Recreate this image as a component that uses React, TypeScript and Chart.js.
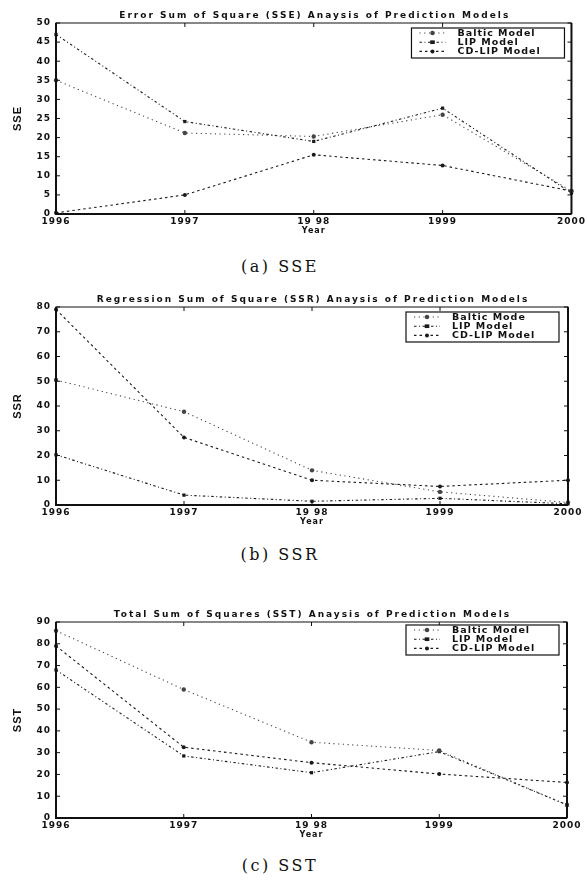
import React, { useEffect, useRef } from 'react';
import { Chart, registerables } from 'chart.js';

Chart.register(...registerables);

// ---------- data ----------
const years = [1996, 1997, 1998, 1999, 2000];
const yearLabels = ['1996', '1997', '19 98', '1999', '2000'];

const namesSSE = ['Baltic Model', 'LIP Model', 'CD-LIP Model'];
const namesSSR = ['Baltic Mode', 'LIP Model', 'CD-LIP Model'];
const namesSST = ['Baltic Model', 'LIP Model', 'CD-LIP Model'];

const sseBaltic = [35, 21.2, 20.3, 26, 6];
const sseLIP = [47, 24.2, 19, 27.7, 5.5];
const sseCDLIP = [0.3, 5, 15.5, 12.7, 6];

const ssrBaltic = [50.5, 37.7, 14, 5.3, 1];
const ssrLIP = [20.3, 4, 1.5, 2.7, 0.5];
const ssrCDLIP = [79, 27.3, 10, 7.5, 10];

const sstBaltic = [86, 59, 34.8, 31, 6];
const sstLIP = [68, 28.5, 20.8, 30.5, 6];
const sstCDLIP = [79, 32.5, 25.4, 20.2, 16.3];

// ---------- styles ----------
const seriesStyles = [
  { dash: [1.2, 3.5], pointStyle: 'circle', radius: 2.2, color: '#444' },
  { dash: [2.5, 2.5, 1, 2.5], pointStyle: 'rect', radius: 2.3, color: '#1a1a1a' },
  { dash: [2.5, 3], pointStyle: 'circle', radius: 2, color: '#1a1a1a' },
];

const tickFont = { family: 'DejaVu Sans', weight: 'bold' as const, size: 9 };

function drawMarker(ctx: CanvasRenderingContext2D, style: string, x: number, y: number, r: number) {
  ctx.beginPath();
  if (style === 'rect') {
    ctx.rect(x - r, y - r * 0.8, 2 * r, 1.6 * r);
  } else {
    ctx.arc(x, y, r, 0, Math.PI * 2);
  }
  ctx.fill();
}

const framePlugin = {
  id: 'frameLegend',
  beforeLayout(chart: any) {
    chart.ctx.letterSpacing = '1px';
  },
  beforeDraw(chart: any) {
    chart.ctx.letterSpacing = '1px';
  },
  afterDatasetsDraw(chart: any, _args: any, opts: any) {
    const ctx: CanvasRenderingContext2D = chart.ctx;
    const a = chart.chartArea;
    const xs = chart.scales.x;
    const ys = chart.scales.y;
    ctx.save();
    ctx.setLineDash([]);
    ctx.strokeStyle = '#111';
    ctx.lineWidth = 1;
    ctx.strokeRect(a.left, a.top, a.right - a.left, a.bottom - a.top);
    ctx.lineWidth = 2;
    ctx.beginPath();
    ctx.moveTo(a.left, a.top);
    ctx.lineTo(a.left, a.bottom);
    ctx.lineTo(a.right, a.bottom);
    ctx.moveTo(a.right, a.top);
    ctx.lineTo(a.right, a.bottom);
    ctx.stroke();
    // inward ticks
    ctx.lineWidth = 1;
    ctx.beginPath();
    for (const t of xs.ticks) {
      const p = xs.getPixelForValue(t.value);
      ctx.moveTo(p, a.bottom);
      ctx.lineTo(p, a.bottom - 4);
      ctx.moveTo(p, a.top);
      ctx.lineTo(p, a.top + 4);
    }
    for (const t of ys.ticks) {
      const p = ys.getPixelForValue(t.value);
      ctx.moveTo(a.left, p);
      ctx.lineTo(a.left + 4, p);
      ctx.moveTo(a.right, p);
      ctx.lineTo(a.right - 4, p);
    }
    ctx.stroke();

    // title
    ctx.fillStyle = '#111';
    ctx.font = 'bold 9px "DejaVu Sans"';
    (ctx as any).letterSpacing = '2px';
    ctx.textAlign = 'center';
    ctx.textBaseline = 'middle';
    ctx.fillText(opts.title, (a.left + a.right) / 2 + 1, a.top - 7);

    // legend
    const names: string[] = opts.names || [];
    const w = 153;
    const h = 30;
    const bx = a.right - opts.rightInset - w;
    const by = a.top + opts.topInset;
    ctx.fillStyle = '#fff';
    ctx.fillRect(bx, by, w, h);
    ctx.lineWidth = 1.2;
    ctx.strokeStyle = '#111';
    ctx.strokeRect(bx, by, w, h);
    ctx.font = 'bold 9.5px "DejaVu Sans"';
    (ctx as any).letterSpacing = '1px';
    ctx.textBaseline = 'middle';
    ctx.textAlign = 'left';
    names.forEach((n, i) => {
      const s = seriesStyles[i];
      const cy = by + 5 + i * 9.2;
      ctx.strokeStyle = s.color;
      ctx.fillStyle = s.color;
      ctx.lineWidth = 1.1;
      ctx.setLineDash(s.dash);
      ctx.beginPath();
      ctx.moveTo(bx + 8, cy);
      ctx.lineTo(bx + 34, cy);
      ctx.stroke();
      ctx.setLineDash([]);
      drawMarker(ctx, s.pointStyle, bx + 21, cy, s.radius);
      ctx.fillStyle = '#111';
      ctx.fillText(n, bx + 46, cy + 0.5);
    });
    ctx.restore();
  },
};

type Cfg = {
  top: number;
  height: number;
  rightPad: number;
  title: string;
  yTitle: string;
  yMax: number;
  yStep: number;
  series: number[][];
  names: string[];
  legendRight: number;
  legendTop: number;
  caption: string;
  captionY: number;
};

function LineChart({ cfg }: { cfg: Cfg }) {
  const ref = useRef<HTMLCanvasElement>(null);
  useEffect(() => {
    if (!ref.current) return;
    const chart = new Chart(ref.current, {
      type: 'line',
      data: {
        datasets: cfg.series.map((vals, i) => ({
          label: cfg.names[i],
          data: years.map((x, j) => ({ x, y: vals[j] })),
          borderColor: seriesStyles[i].color,
          backgroundColor: seriesStyles[i].color,
          borderWidth: 1.1,
          borderDash: seriesStyles[i].dash,
          pointStyle: seriesStyles[i].pointStyle as any,
          pointRadius: seriesStyles[i].radius,
          pointBorderWidth: 0,
          tension: 0,
          fill: false,
          clip: false as any,
        })),
      },
      options: {
        responsive: false,
        animation: false,
        layout: { padding: { left: 0, right: cfg.rightPad, top: 23, bottom: 0 } },
        plugins: {
          legend: { display: false },
          tooltip: { enabled: false },
          title: { display: false },
          frameLegend: {
            names: cfg.names,
            title: cfg.title,
            rightInset: cfg.legendRight,
            topInset: cfg.legendTop,
          },
        } as any,
        scales: {
          x: {
            type: 'linear',
            min: 1996,
            max: 2000,
            grid: { display: false, drawTicks: false },
            border: { display: false },
            ticks: {
              stepSize: 1,
              autoSkip: false,
              maxRotation: 0,
              padding: 2,
              color: '#111',
              font: tickFont,
              callback: (v: any) => {
                const k = years.indexOf(Number(v));
                return k >= 0 ? yearLabels[k] : '';
              },
            },
            title: {
              display: true,
              text: 'Year',
              color: '#111',
              font: { family: 'DejaVu Sans', weight: 'bold', size: 8 },
              padding: { top: 0, bottom: 4 },
            },
            afterFit: (s: any) => {
              s.height = 26;
            },
          },
          y: {
            min: 0,
            max: cfg.yMax,
            grid: { display: false, drawTicks: false },
            border: { display: false },
            ticks: { stepSize: cfg.yStep, padding: 5, color: '#111', font: tickFont },
            title: {
              display: true,
              text: cfg.yTitle,
              color: '#111',
              font: { family: 'Liberation Sans', weight: 'bold', size: 11 },
              padding: { top: 11, bottom: 0 },
            },
            afterFit: (s: any) => {
              s.width = 56;
            },
          },
        },
      },
      plugins: [framePlugin as any],
    });
    return () => chart.destroy();
  }, [cfg]);
  return (
    <>
      <canvas
        ref={ref}
        width={588}
        height={cfg.height}
        style={{ position: 'absolute', left: 0, top: cfg.top, width: 588, height: cfg.height }}
      />
      <div
        style={{
          position: 'absolute',
          left: 180,
          width: 200,
          top: cfg.captionY - 11,
          height: 22,
          lineHeight: '22px',
          textAlign: 'center',
          fontFamily: '"DejaVu Serif", serif',
          fontSize: 16,
          letterSpacing: '2.5px',
          color: '#111',
          whiteSpace: 'pre',
        }}
      >
        {cfg.caption}
      </div>
    </>
  );
}

const charts: Cfg[] = [
  {
    top: 0,
    height: 240,
    rightPad: 14,
    title: 'Error Sum of Square (SSE) Anaysis of Prediction Models',
    yTitle: 'SSE',
    yMax: 50,
    yStep: 5,
    series: [sseBaltic, sseLIP, sseCDLIP],
    names: namesSSE,
    legendRight: 7,
    legendTop: 5,
    caption: '(a) SSE',
    captionY: 267,
  },
  {
    top: 284,
    height: 247,
    rightPad: 20,
    title: 'Regression Sum of Square (SSR) Anaysis of Prediction Models',
    yTitle: 'SSR',
    yMax: 80,
    yStep: 10,
    series: [ssrBaltic, ssrLIP, ssrCDLIP],
    names: namesSSR,
    legendRight: 9,
    legendTop: 5,
    caption: '(b) SSR',
    captionY: 555,
  },
  {
    top: 599,
    height: 245,
    rightPad: 21,
    title: 'Total Sum of Squares (SST) Anaysis of Prediction Models',
    yTitle: 'SST',
    yMax: 90,
    yStep: 10,
    series: [sstBaltic, sstLIP, sstCDLIP],
    names: namesSST,
    legendRight: 8,
    legendTop: 3,
    caption: '(c) SST',
    captionY: 866,
  },
];

export default function App() {
  return (
    <div style={{ position: 'absolute', left: 0, top: 0, width: 588, height: 884, background: '#fff' }}>
      {charts.map((c, i) => (
        <LineChart key={i} cfg={c} />
      ))}
    </div>
  );
}
